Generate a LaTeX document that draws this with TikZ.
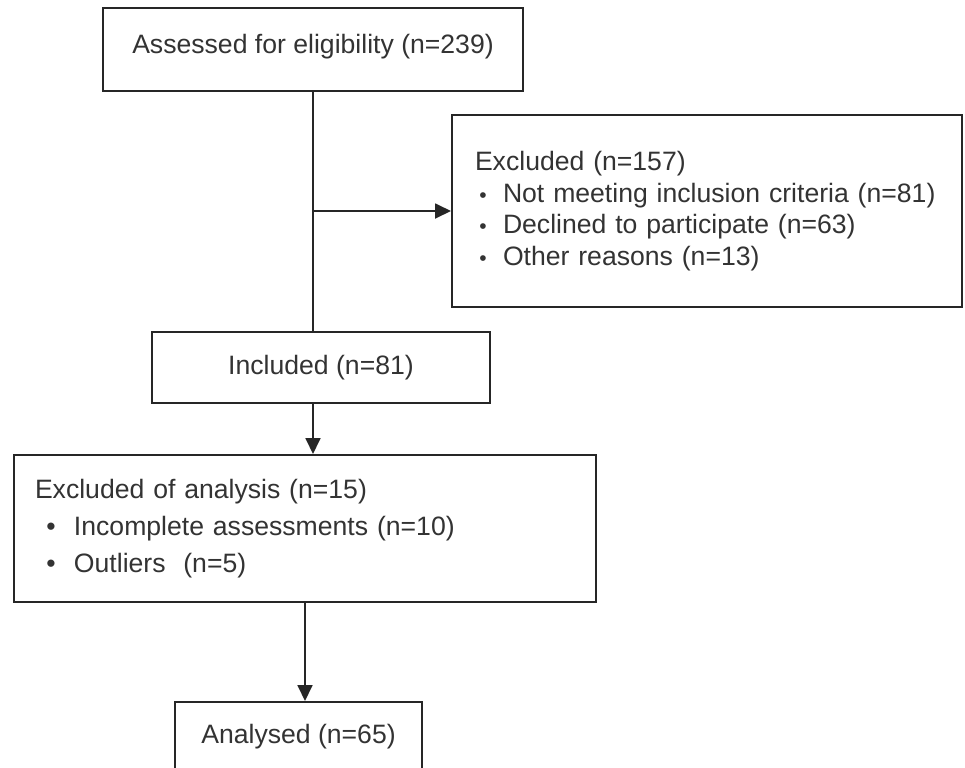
\documentclass[tikz,border=0pt]{standalone}
\usepackage{fontspec}
\setmainfont{Liberation Sans}
\usetikzlibrary{arrows.meta}
\newcommand{\smallitem}[1]{\makebox[8pt]{\fontsize{10.5}{10}\selectfont •}\hspace{6pt}#1}
\newcommand{\bigitem}[1]{\makebox[16pt]{•}\hspace{3.5pt}#1}
\begin{document}
\begin{tikzpicture}[x=0.5pt,y=-0.5pt,line join=miter,>=Triangle,
	box/.style={draw=black!85,line width=1pt,fill=white,inner sep=0pt,text=black!80,font=\fontsize{13.3}{16}\selectfont},
	listbox/.style={box,align=left},
	flow/.style={draw=black!85,line width=0.9pt,-{Triangle[length=8pt,width=7.5pt]}}]
	\clip (0,0) rectangle (965,767);
	\fill[white] (0,0) rectangle (965,767);
	% boxes
	\node[box,minimum width=210pt,minimum height=41.5pt] (assess) at (313,49.5) {\raisebox{-2pt}[0pt][0pt]{Assessed for eligibility (n=239)}};
	\node[listbox,minimum height=96pt,text width=232pt,inner xsep=11.5pt,font=\fontsize{13.3}{15.75}\selectfont] (excl) at (707,211)
		{Excluded (n=157)\\ \smallitem{Not meeting inclusion criteria (n=81)}\\ \smallitem{Declined to participate (n=63)}\\ \smallitem{Other reasons (n=13)}};
	\node[box,minimum width=169pt,minimum height=35.5pt] (incl) at (321,367.5) {Included (n=81)};
	\node[listbox,minimum height=73.5pt,text width=270pt,inner xsep=10.5pt,font=\fontsize{13.3}{18.5}\selectfont] (excan) at (305,528.5)
		{Excluded of analysis (n=15)\\ \bigitem{Incomplete assessments (n=10)}\\ \bigitem{Outliers\ \ (n=5)}};
	\node[box,minimum width=123.5pt,minimum height=35pt] (anal) at (298.5,737) {Analysed (n=65)};
	% connectors
	\coordinate (split) at (assess.south |- excl.west);
	\draw[draw=black!85,line width=0.9pt] (assess.south) -- (assess.south |- incl.north);
	\draw[flow] (split) -- (excl.west);
	\draw[flow] (assess.south |- incl.south) -- (assess.south |- excan.north);
	\draw[flow] (excan.south) -- (excan.south |- anal.north);
\end{tikzpicture}
\end{document}
